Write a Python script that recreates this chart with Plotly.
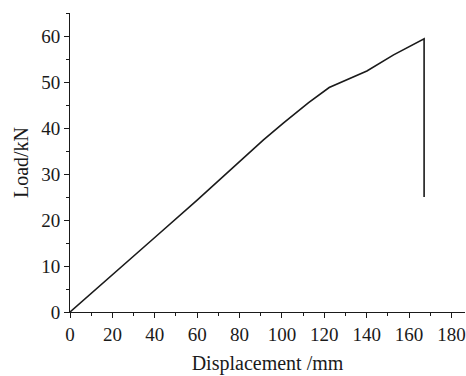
import plotly.graph_objects as go

displacement = [0, 20, 40, 60, 75.6, 91.3, 100.8, 112.6, 122.3, 140.1, 152.7, 167.1, 167.1]
load = [0, 8.0, 16.2, 24.3, 30.8, 37.4, 41.1, 45.5, 48.8, 52.4, 55.9, 59.4, 25.0]
x_ticks = list(range(0, 181, 20))
y_ticks = list(range(0, 61, 10))

fig = go.Figure()
fig.add_trace(go.Scatter(x=displacement, y=load, mode="lines",
                         line=dict(color="#1a1a1a", width=1.6), showlegend=False))

font = dict(family="Liberation Serif, Times New Roman, serif", color="#1a1a1a")
fig.update_layout(
    width=466, height=376,
    margin=dict(l=70, r=1, t=13, b=64),
    paper_bgcolor="white", plot_bgcolor="white",
    font=dict(size=19, **font),
    xaxis=dict(range=[0, 186.4], tickvals=x_ticks,
               showline=True, linecolor="#1a1a1a", linewidth=1,
               ticks="outside", ticklen=5, tickcolor="#1a1a1a",
               minor=dict(dtick=10, tick0=0, ticks="outside", ticklen=3, tickcolor="#1a1a1a"),
               showgrid=False, zeroline=False,
               title=dict(text="Displacement /mm", font=dict(size=20), standoff=12),
               tickfont=dict(size=19)),
    yaxis=dict(range=[0, 65], tickvals=y_ticks,
               showline=True, linecolor="#1a1a1a", linewidth=1,
               ticks="outside", ticklen=5, tickcolor="#1a1a1a",
               minor=dict(dtick=5, tick0=0, ticks="outside", ticklen=3, tickcolor="#1a1a1a"),
               showgrid=False, zeroline=False,
               title=dict(text="Load/kN", font=dict(size=20), standoff=7),
               tickfont=dict(size=19)),
)
fig.write_html("out.html", config={"displayModeBar": False},
               post_script="document.body.style.margin='0';document.body.style.overflow='hidden';")
